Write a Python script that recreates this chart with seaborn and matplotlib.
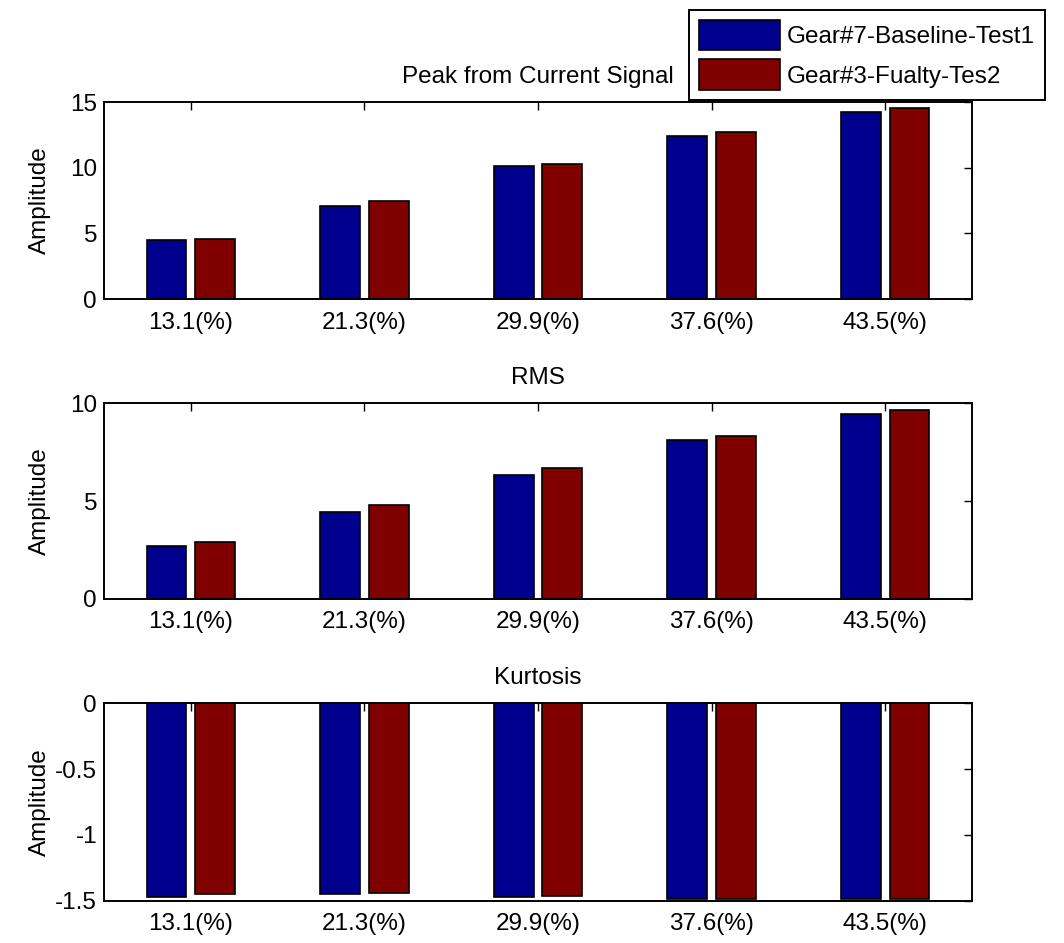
import pandas as pd
import matplotlib
matplotlib.use("Agg")
import matplotlib.pyplot as plt
import seaborn as sns
from matplotlib.patches import Patch

# Datos
cargas = ['13.1(%)', '21.3(%)', '29.9(%)', '37.6(%)', '43.5(%)']
series = ['Gear#7-Baseline-Test1', 'Gear#3-Fualty-Tes2']
colores = ['#00008F', '#800000']

pico_base = [4.5, 7.1, 10.1, 12.45, 14.25]
pico_falla = [4.6, 7.45, 10.25, 12.75, 14.55]

rms_base = [2.7, 4.45, 6.35, 8.1, 9.45]
rms_falla = [2.9, 4.8, 6.7, 8.35, 9.65]

kurt_base = [-1.472, -1.447, -1.47, -1.485, -1.487]
kurt_falla = [-1.451, -1.444, -1.464, -1.485, -1.487]

titulos = ['Peak from Current Signal', 'RMS', 'Kurtosis']
yticks = [[0, 5, 10, 15], [0, 5, 10], [-1.5, -1, -0.5, 0]]
yticklabels = [['0', '5', '10', '15'], ['0', '5', '10'], ['-1.5', '-1', '-0.5', '0']]
ylims = [(0, 15), (0, 10), (-1.5, 0)]


def tabla(base, falla):
    return pd.DataFrame({
        'carga': cargas * 2,
        'serie': [series[0]] * len(cargas) + [series[1]] * len(cargas),
        'valor': base + falla,
    })


datos = [tabla(pico_base, pico_falla), tabla(rms_base, rms_falla), tabla(kurt_base, kurt_falla)]

sns.set_style('white')
plt.rcParams['font.family'] = ['Liberation Sans', 'DejaVu Sans']
plt.rcParams['text.color'] = 'black'
plt.rcParams['axes.labelcolor'] = 'black'
plt.rcParams['axes.titlecolor'] = 'black'
fs = 17.5

fig = plt.figure(figsize=(10.64, 9.43), dpi=100)
posiciones = [
    [0.0977, 0.6829, 0.8158, 0.2089],
    [0.0977, 0.3648, 0.8158, 0.2075],
    [0.0977, 0.0449, 0.8158, 0.2093],
]

for i, df in enumerate(datos):
    ax = fig.add_axes(posiciones[i])
    sns.barplot(data=df, x='carga', y='valor', hue='serie', hue_order=series,
                order=cargas, palette=colores, width=0.56, gap=0.18,
                edgecolor='black', linewidth=1.2, saturation=1, legend=False, ax=ax)
    ax.set_xlim(-0.5, 4.5)
    ax.set_ylim(*ylims[i])
    ax.set_yticks(yticks[i])
    ax.set_yticklabels(yticklabels[i])
    ax.set_axisbelow(True)
    ax.tick_params(direction='in', top=True, right=True, length=6, width=1,
                   labelsize=fs, color='black', labelcolor='black')
    ax.tick_params(axis='x', pad=9)
    ax.tick_params(axis='y', pad=5)
    for s in ax.spines.values():
        s.set_visible(True)
        s.set_color('black')
        s.set_linewidth(1.4)
    ax.set_xlabel('')
    ax.set_ylabel('Amplitude', fontsize=fs, color='black')
    ax.yaxis.set_label_coords(-0.061, 0.5)
    ax.set_title(titulos[i], fontsize=fs, pad=14, color='black')

# Leyenda arriba a la derecha
manijas = [Patch(facecolor=c, edgecolor='black', linewidth=1.2) for c in colores]
leg = fig.legend(manijas, series, loc='upper left', bbox_to_anchor=(689 / 1064, 1 - 10 / 943),
                 borderaxespad=0, fontsize=fs, fancybox=False, framealpha=1,
                 edgecolor='black', handlelength=3.33, handleheight=1.56,
                 handletextpad=0.3, labelspacing=0.37, borderpad=0.4)
leg.get_frame().set_linewidth(1.4)
for t in leg.get_texts():
    t.set_color('black')

plt.savefig('out.png', dpi=100)
